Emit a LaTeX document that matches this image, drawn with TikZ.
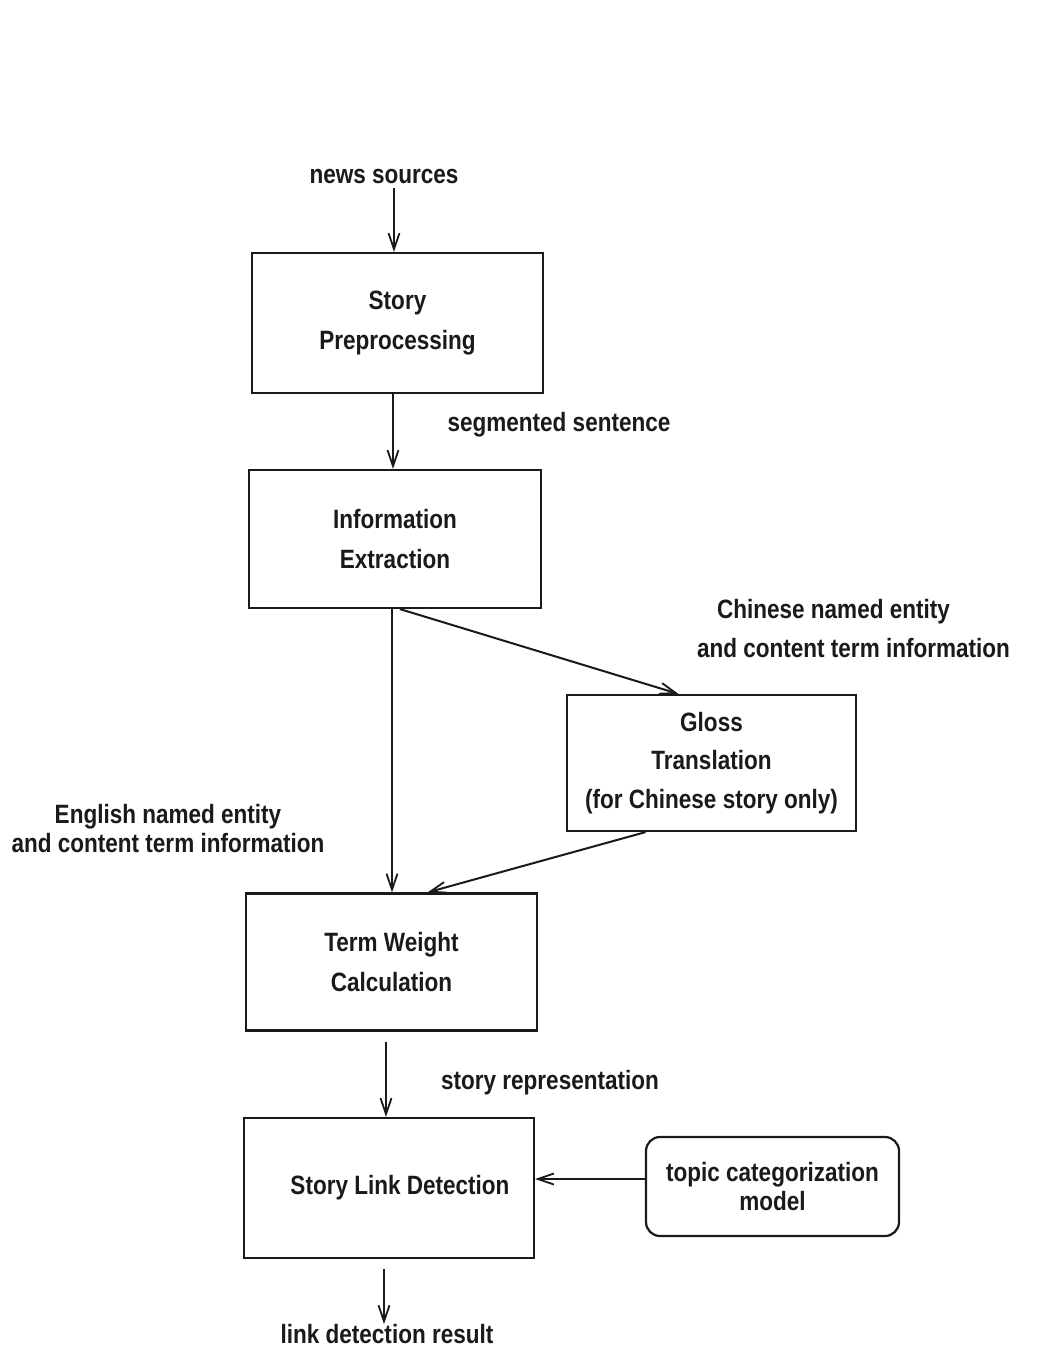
\documentclass[tikz,border=0pt]{standalone}
\usepackage{fontspec}
\usetikzlibrary{arrows.meta}
\newfontfamily\diafont[FakeStretch=0.85]{Liberation Sans}
\definecolor{ink}{HTML}{1A1A1A}

\begin{document}
\begin{tikzpicture}[x=1pt,y=-1pt,
  every node/.style={text=ink},
  txt/.style={font=\diafont\bfseries\fontsize{26.5}{40}\selectfont},
  tight/.style={font=\diafont\bfseries\fontsize{26.5}{29}\selectfont},
  box/.style={txt, draw=ink, line width=2.2pt, align=center, inner sep=0pt},
  lbl/.style={align=center, inner sep=0pt},
  arr/.style={draw=ink, line width=2pt,
    -{Straight Barb[length=16pt,width=11pt,line width=1.8pt]}}]

% page
\fill[white] (0,0) rectangle (1045,1350);
\useasboundingbox (0,0) rectangle (1045,1350);

% processing stages
\node[box, minimum width=291pt, minimum height=140pt] (story) at (397.5,323)
  {Story\\Preprocessing};
\node[box, minimum width=292pt, minimum height=138pt] (info) at (395,539)
  {Information\\Extraction};
\node[box, font=\diafont\bfseries\fontsize{26.5}{38.5}\selectfont,
  minimum width=289pt, minimum height=136pt] (gloss) at (711.5,763)
  {Gloss\\Translation\\(for Chinese story only)};
\node[box, minimum width=291pt, minimum height=137pt] (term) at (391.5,962)
  {Term Weight\\Calculation};
\node[box, minimum width=290pt, minimum height=140pt] (sld) at (389,1188)
  {\hspace*{22pt}Story Link Detection};
\node[box, tight, rounded corners=14pt, minimum width=253pt, minimum height=99pt]
  (topic) at (772.5,1186.5) {topic categorization\\model};

% data labels
\node[lbl, txt] (news) at (384,176) {news sources};
\node[lbl, txt] (seg) at (559,425) {segmented sentence};
\node[lbl, txt, font=\diafont\bfseries\fontsize{26.5}{39}\selectfont, align=left]
  (chinese) at (853.5,628.5)
  {\hspace*{20pt}Chinese named entity\\and content term information};
\node[lbl, tight] (english) at (168,828.5)
  {English named entity\\and content term information};
\node[lbl, txt] (rep) at (550,1083) {story representation};
\node[lbl, txt] (result) at (387,1334) {link detection result};

% data flow
\draw[arr, shorten <=5pt] ([xshift=10pt]news.south) -- ([xshift=-3.5pt]story.north);
\draw[arr] ([xshift=-4.5pt]story.south) -- ([xshift=-2pt]info.north);
\draw[arr] ([xshift=5pt]info.south) -- ([xshift=-33pt]gloss.north);
\draw[arr] ([xshift=-3pt]info.south) -- ([xshift=0.5pt]term.north);
\draw[arr] ([xshift=-66pt]gloss.south) -- ([xshift=36pt]term.north);
\draw[arr, shorten <=10pt] ([xshift=-5.5pt]term.south) -- ([xshift=-3pt]sld.north);
\draw[arr] ([yshift=7.5pt]topic.west) -- ([yshift=9pt]sld.east);
\draw[arr, shorten <=10pt] ([xshift=-5pt]sld.south) -- ([xshift=-3pt]result.north);
\end{tikzpicture}
\end{document}
